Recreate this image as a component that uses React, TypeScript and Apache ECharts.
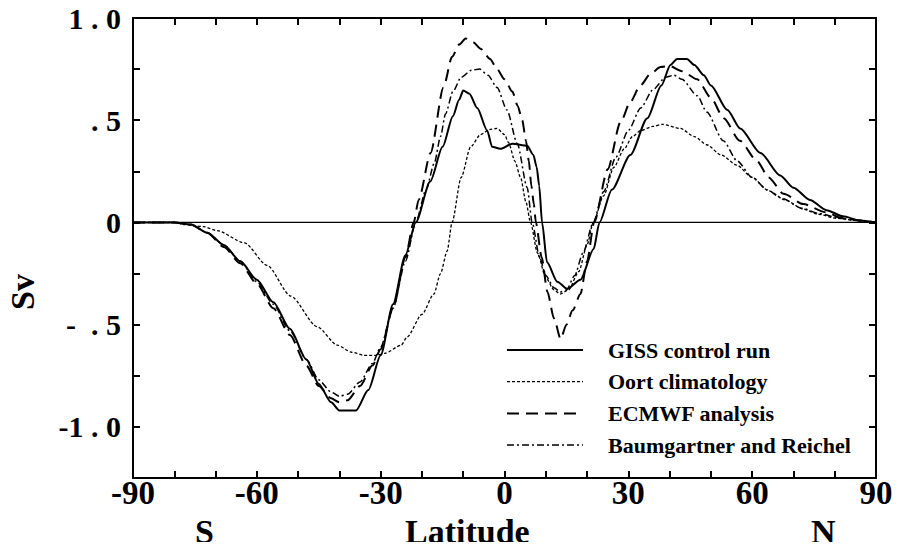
import React, { useEffect, useRef } from "react";
import * as echarts from "echarts";

const seriesNames = ["GISS control run", "Oort climatology", "ECMWF analysis", "Baumgartner and Reichel"];

const gissData: [number, number][] = [
  [-90, 0], [-80, 0], [-76, -0.01], [-72, -0.05], [-68, -0.11], [-64, -0.19], [-60, -0.28], [-56, -0.39],
  [-52, -0.52], [-48, -0.67], [-45, -0.79], [-42, -0.88], [-40, -0.92], [-36, -0.92], [-33, -0.82],
  [-30, -0.65], [-27, -0.40], [-24, -0.16], [-21.5, 0], [-18, 0.2], [-15, 0.37], [-12.5, 0.52], [-11, 0.6],
  [-10, 0.645], [-8.5, 0.63], [-6.6, 0.56], [-4.2, 0.45], [-3, 0.37], [-1, 0.36], [1.9, 0.385], [5.5, 0.375],
  [7, 0.33], [7.8, 0.27], [8.4, 0.18], [9.1, 0], [10.3, -0.195], [12.8, -0.29], [15.2, -0.325], [18.4, -0.28],
  [21.6, -0.13], [23, 0], [26, 0.16], [30.5, 0.33], [34.6, 0.51], [38, 0.67], [40.2, 0.77], [41.8, 0.8],
  [44.2, 0.8], [46, 0.77], [48.3, 0.72], [50, 0.67], [54, 0.55], [57.1, 0.46], [62, 0.34], [66.8, 0.23],
  [70, 0.17], [74, 0.11], [78, 0.06], [82, 0.03], [86, 0.01], [90, 0],
];

const oortData: [number, number][] = [
  [-90, 0], [-80, 0], [-77.7, -0.01], [-73, -0.02], [-69.6, -0.04], [-63, -0.10], [-57.5, -0.21],
  [-51.8, -0.36], [-45.4, -0.51], [-40.5, -0.60], [-37, -0.635], [-34, -0.65], [-31, -0.65], [-29, -0.64],
  [-25, -0.60], [-23.6, -0.56], [-20, -0.45], [-17.1, -0.35], [-15.5, -0.25], [-13.9, -0.14], [-12.7, 0],
  [-10.5, 0.22], [-8.2, 0.37], [-5.8, 0.43], [-3.5, 0.455], [-1.8, 0.46], [0, 0.43], [1, 0.39], [2.5, 0.30],
  [3.9, 0.22], [5.2, 0.1], [6.3, 0], [8, -0.15], [10, -0.27], [12, -0.33], [13.5, -0.35], [15.5, -0.33],
  [18, -0.24], [20, -0.11], [21.5, 0], [24, 0.13], [26.5, 0.27], [29, 0.36], [31, 0.42], [33, 0.45],
  [36, 0.47], [38.2, 0.48], [42.6, 0.46], [46, 0.42], [49, 0.38], [52.5, 0.33], [56.3, 0.28], [60, 0.22],
  [64, 0.155], [68, 0.11], [72.4, 0.065], [76, 0.04], [80.5, 0.02], [85, 0.01], [90, 0],
];

const ecmwfData: [number, number][] = [
  [-90, 0], [-80, 0], [-76, -0.01], [-72, -0.05], [-68, -0.12], [-64, -0.2], [-60, -0.30], [-56, -0.42],
  [-52, -0.55], [-48, -0.70], [-45, -0.80], [-42, -0.86], [-40, -0.88], [-38, -0.87], [-35, -0.80],
  [-32, -0.70], [-30, -0.62], [-27, -0.42], [-24, -0.17], [-22, 0], [-20.8, 0.11], [-17.9, 0.34],
  [-14.8, 0.66], [-12.7, 0.81], [-11, 0.87], [-9.4, 0.90], [-7.5, 0.88], [-5.8, 0.85], [-3.5, 0.80],
  [-1.8, 0.75], [0, 0.70], [1.9, 0.64], [3.2, 0.57], [4.3, 0.50], [5.2, 0.40], [5.9, 0.30], [6.5, 0.18],
  [7.1, 0.09], [7.6, 0], [9, -0.17], [10.4, -0.34], [12, -0.47], [13.6, -0.57], [15, -0.50], [16.5, -0.43],
  [18.4, -0.35], [20, -0.19], [21.7, 0], [25, 0.26], [28.1, 0.49], [30.5, 0.59], [32.9, 0.67], [35.5, 0.73],
  [37.8, 0.76], [40, 0.765], [43, 0.74], [46.7, 0.70], [50, 0.61], [53.1, 0.51], [57, 0.40], [61.2, 0.30],
  [64, 0.22], [67.6, 0.14], [72.4, 0.09], [77.7, 0.05], [82, 0.02], [86, 0.01], [90, 0],
];

const brData: [number, number][] = [
  [-90, 0], [-80, 0], [-76, -0.01], [-72, -0.05], [-68, -0.11], [-64, -0.19], [-60, -0.29], [-56, -0.40],
  [-52, -0.53], [-48, -0.67], [-45, -0.77], [-42, -0.83], [-40, -0.85], [-38, -0.84], [-35, -0.78],
  [-32, -0.69], [-30, -0.61], [-27, -0.42], [-24, -0.19], [-21.5, 0], [-19, 0.16], [-17, 0.29],
  [-15.5, 0.42], [-14.3, 0.53], [-12.5, 0.64], [-10.5, 0.71], [-8, 0.745], [-6, 0.75], [-4, 0.72],
  [-1.8, 0.66], [0.6, 0.55], [3.1, 0.385], [5.5, 0.17], [6.7, 0], [8.5, -0.17], [10, -0.26], [12, -0.32],
  [13.5, -0.34], [15, -0.33], [17, -0.26], [19, -0.15], [21.5, 0], [24, 0.15], [27, 0.32], [30, 0.45],
  [33, 0.56], [36, 0.65], [39, 0.71], [41, 0.72], [43, 0.70], [46.7, 0.62], [49, 0.54], [53, 0.40],
  [56.4, 0.30], [60, 0.22], [63.6, 0.16], [67, 0.12], [72, 0.07], [76, 0.045], [80.5, 0.025], [85, 0.01],
  [90, 0],
];

const zeroLine: [number, number][] = [[-90, 0], [90, 0]];

const xLabelValues = [-90, -60, -30, 0, 30, 60, 90];
const yLabelMap: Record<string, string> = {
  "1": "1 . 0",
  "0.5": ". 5",
  "0": "0",
  "-0.5": "-  . 5",
  "-1": "-1 . 0",
};

const FONT = "'Liberation Serif', 'Times New Roman', serif";

const lineStyles: { dash: number[] | null; width: number }[] = [
  { dash: null, width: 2 },
  { dash: [3, 2], width: 1.3 },
  { dash: [12, 7], width: 2 },
  { dash: [7, 3, 2, 3], width: 1.5 },
];

export default function App() {
  const ref = useRef<HTMLDivElement>(null);
  useEffect(() => {
    if (!ref.current) return;
    const chart = echarts.init(ref.current, undefined, { renderer: "svg" });
    const axisLine = { show: true, onZero: false, lineStyle: { color: "#000", width: 2 } };
    const axisTick = { show: true, inside: true, length: 7, lineStyle: { color: "#000", width: 2 } };
    const mk = (i: number, data: [number, number][]) => ({
      name: seriesNames[i],
      type: "line",
      data,
      showSymbol: false,
      symbol: "none",
      smooth: 0.25,
      smoothMonotone: "x",
      lineStyle: { color: "#000", width: lineStyles[i].width, type: lineStyles[i].dash ?? "solid" },
      itemStyle: { color: "#000" },
      z: 3,
    });
    const legendTop = 350;
    const legendGap = 31.7;
    const legendGraphics: any[] = [];
    seriesNames.forEach((name, i) => {
      const y = legendTop + i * legendGap;
      legendGraphics.push({
        type: "line",
        shape: { x1: 507, y1: y, x2: 583, y2: y },
        style: { stroke: "#000", lineWidth: lineStyles[i].width, lineDash: lineStyles[i].dash ?? undefined },
      });
      legendGraphics.push({
        type: "text",
        x: 608,
        y,
        style: { text: name, font: `bold 22px ${FONT}`, fill: "#000", verticalAlign: "middle", align: "left" },
      });
    });
    chart.setOption({
      animation: false,
      backgroundColor: "#fff",
      grid: { left: 133, right: 24, top: 18, bottom: 72 },
      xAxis: [
        {
          type: "value", min: -90, max: 90, interval: 10, position: "bottom",
          axisLine, axisTick, splitLine: { show: false },
          axisLabel: {
            margin: -2,
            fontFamily: FONT, fontSize: 33, fontWeight: "bold", color: "#000",
            formatter: (v: number) => (xLabelValues.includes(v) ? String(v) : ""),
          },
        },
        {
          type: "value", min: -90, max: 90, interval: 10, position: "top",
          axisLine, axisTick, splitLine: { show: false }, axisLabel: { show: false },
        },
      ],
      yAxis: [
        {
          type: "value", min: -1.25, max: 1.0, interval: 0.25, position: "left",
          axisLine, axisTick, splitLine: { show: false },
          axisLabel: {
            margin: 12,
            fontFamily: FONT, fontSize: 30, fontWeight: "bold", color: "#000",
            formatter: (v: number) => yLabelMap[String(Math.round(v * 100) / 100)] ?? "",
          },
        },
        {
          type: "value", min: -1.25, max: 1.0, interval: 0.25, position: "right",
          axisLine, axisTick, splitLine: { show: false }, axisLabel: { show: false },
        },
      ],
      series: [
        mk(0, gissData),
        mk(1, oortData),
        mk(2, ecmwfData),
        mk(3, brData),
        {
          name: "zero",
          type: "line",
          data: zeroLine,
          showSymbol: false,
          symbol: "none",
          lineStyle: { color: "#000", width: 1.3 },
          z: 2,
        },
      ],
      graphic: [
        ...legendGraphics,
        { type: "text", left: 195, top: 514, style: { text: "S", font: `bold 34px ${FONT}`, fill: "#000" } },
        { type: "text", left: 405, top: 514, style: { text: "Latitude", font: `bold 34px ${FONT}`, fill: "#000" } },
        { type: "text", left: 811, top: 514, style: { text: "N", font: `bold 34px ${FONT}`, fill: "#000" } },
        {
          type: "text", x: 5, y: 310, rotation: Math.PI / 2,
          style: { text: "Sv", font: `bold 34px ${FONT}`, fill: "#000" },
        },
      ],
    });
    return () => chart.dispose();
  }, []);
  return <div ref={ref} style={{ width: 900, height: 550, margin: -8 }} />;
}
